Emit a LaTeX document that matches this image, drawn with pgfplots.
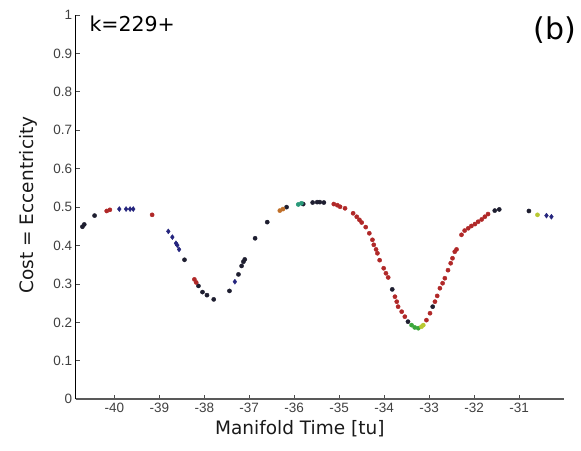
\documentclass[border=0pt]{standalone}
\usepackage{pgfplots}
\pgfplotsset{compat=1.18}
\usepackage{fontspec}
\setmainfont{DejaVu Sans}
\newfontfamily\tickfont{Liberation Sans}
\definecolor{cdark}{HTML}{1E1E30}
\definecolor{cblue}{HTML}{25257E}
\definecolor{cred}{HTML}{B02828}
\definecolor{cgreen}{HTML}{3AA63A}
\definecolor{cteal}{HTML}{2A9A7A}
\definecolor{corange}{HTML}{C0702A}
\definecolor{cyellow}{HTML}{B8C832}
\begin{document}
\begin{tikzpicture}
\begin{axis}[
  scale only axis,
  width=488.3pt, height=384.3pt,
  xmin=-40.86, xmax=-30.0, ymin=0, ymax=1,
  axis x line*=bottom, axis y line*=left,
  x axis line style={draw=black!65, line width=1.6pt},
  y axis line style={draw=black, line width=0.9pt},
  tick align=inside,
  major tick length=4pt,
  tick style={black!70, line width=0.8pt},
  xtick={-40,-39,...,-31},
  ytick={0,0.1,...,1},
  /pgf/number format/assume math mode=true,
  ticklabel style={font=\fontsize{13.5}{13.5}\selectfont\tickfont, text=black!75},
  yticklabel style={/pgf/number format/fixed, /pgf/number format/precision=1},
  xlabel={Manifold Time [tu]},
  ylabel={Cost = Eccentricity},
  label style={font=\fontsize{18.5}{18.5}\selectfont, text=black!90},
  xlabel style={at={(axis description cs:0.459,-0.0773)}, anchor=center},
  ylabel style={at={(axis description cs:-0.0977,0.5056)}, anchor=center},
  clip=false,
  every axis plot/.append style={only marks, mark=*, mark size=2.1pt},
]
% dark
\addplot[color=cdark, mark options={fill=cdark}] coordinates {
(-40.71,0.449) (-40.67,0.455) (-40.44,0.478)
(-38.44,0.363) (-38.13,0.295) (-38.04,0.279) (-37.94,0.271) (-37.79,0.260)
(-37.44,0.282) (-37.24,0.325) (-37.17,0.347) (-37.13,0.358) (-37.10,0.364)
(-36.87,0.419) (-36.60,0.461) (-36.17,0.500) (-35.80,0.508)
(-35.59,0.512) (-35.49,0.513) (-35.43,0.513) (-35.34,0.512)
(-33.82,0.286) (-33.47,0.202) (-32.92,0.241)
(-31.54,0.491) (-31.44,0.494) (-30.78,0.490)
};
% blue
\addplot[color=cblue, mark options={fill=cblue}, mark=diamond*, mark size=2.5pt] coordinates {
(-39.89,0.495) (-39.74,0.495) (-39.65,0.495) (-39.58,0.495)
(-38.80,0.437) (-38.71,0.422) (-38.63,0.406) (-38.60,0.401) (-38.56,0.390)
(-37.32,0.306) (-30.39,0.478) (-30.28,0.475)
};
% red
\addplot[color=cred, mark options={fill=cred}] coordinates {
(-40.17,0.490) (-40.10,0.493) (-39.16,0.480)
(-38.22,0.312) (-38.18,0.304)
(-35.12,0.508) (-35.04,0.505) (-34.98,0.501) (-34.87,0.497)
(-34.69,0.484) (-34.61,0.475) (-34.55,0.467) (-34.50,0.460)
(-34.41,0.448) (-34.33,0.432) (-34.26,0.415) (-34.23,0.402) (-34.18,0.390) (-34.15,0.380)
(-34.10,0.362) (-34.01,0.341) (-33.96,0.328) (-33.91,0.317)
(-33.76,0.267) (-33.72,0.254) (-33.69,0.241) (-33.61,0.228) (-33.54,0.215)
(-33.06,0.206) (-32.98,0.224) (-32.87,0.254)
(-32.82,0.269) (-32.76,0.289) (-32.70,0.302) (-32.65,0.315)
(-32.58,0.336) (-32.52,0.354) (-32.48,0.367) (-32.43,0.384) (-32.39,0.390)
(-32.28,0.428) (-32.21,0.439) (-32.13,0.445) (-32.06,0.451) (-31.98,0.456)
(-31.91,0.462) (-31.83,0.468) (-31.76,0.475) (-31.69,0.482)
};
% orange
\addplot[color=corange, mark options={fill=corange}] coordinates {
(-36.32,0.491) (-36.25,0.495)
};
% teal
\addplot[color=cteal, mark options={fill=cteal}] coordinates {
(-35.91,0.507) (-35.84,0.510)
};
% green
\addplot[color=cgreen, mark options={fill=cgreen}] coordinates {
(-33.39,0.193) (-33.32,0.187) (-33.24,0.185)
};
% yellow
\addplot[color=cyellow, mark options={fill=cyellow}] coordinates {
(-33.17,0.189) (-33.13,0.193) (-30.59,0.480)
};
\node[anchor=base west, font=\fontsize{20.5}{20.5}\selectfont, inner sep=0pt] at (axis description cs:0.0279,0.9565) {k=229+};
\node[anchor=center, font=\fontsize{30}{30}\selectfont, inner sep=0pt] at (axis description cs:0.981,0.961) {(b)};
\path (axis description cs:-0.155,-0.132) rectangle (axis description cs:1.0348,1.039);
\end{axis}
\end{tikzpicture}
\end{document}
